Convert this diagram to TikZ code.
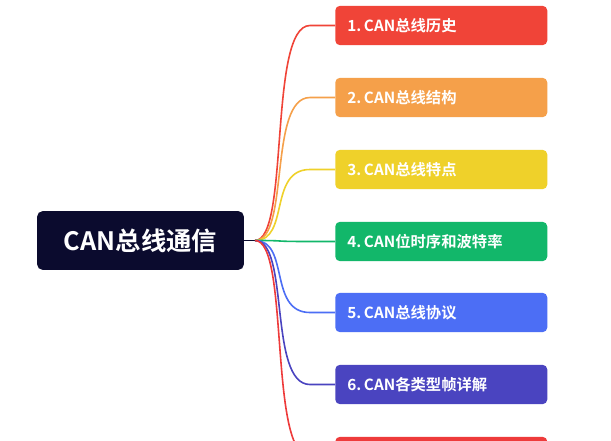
\documentclass[tikz,border=0pt]{standalone}
\usepackage{fontspec}
\newfontfamily\cjk{Noto Sans CJK SC}[BoldFont={Noto Sans CJK SC Bold}]
\definecolor{c1}{HTML}{F04438}
\definecolor{c2}{HTML}{F5A04A}
\definecolor{c3}{HTML}{EFD12A}
\definecolor{c4}{HTML}{12B76A}
\definecolor{c5}{HTML}{4C6EF5}
\definecolor{c6}{HTML}{4A44C0}
\definecolor{c7}{HTML}{EE3B3B}
\definecolor{navy}{HTML}{0B0B2E}
\begin{document}
\begin{tikzpicture}[x=0.75pt,y=-0.75pt,
  box/.style={rounded corners=3.5pt,minimum width=159pt,minimum height=29.5pt,anchor=west,text=white,font=\cjk\bfseries\fontsize{11.5}{13}\selectfont,text width=141pt,align=left,inner sep=0pt},
  link/.style={line width=1.2pt}]
\useasboundingbox (0,0) rectangle (611,440);
\clip (0,0) rectangle (611,440);
\fill[white] (0,0) rectangle (611,440);
\node[fill=navy,rounded corners=4pt,minimum width=155pt,minimum height=44pt,text=white,font=\cjk\bfseries\fontsize{19}{22}\selectfont] (root) at (140.5,240.5) {CAN总线通信};
\coordinate (hub) at (255,240.5);
\draw[link,navy] (root.east) -- (hub);
\foreach \i/\y/\t in {1/25.5/{1.\kern2pt CAN总线历史},2/97.5/{2.\kern2pt CAN总线结构},3/169.5/{3.\kern2pt CAN总线特点},4/241.5/{4.\kern2pt CAN位时序和波特率},5/312.5/{5.\kern2pt CAN总线协议},6/384.5/{6.\kern2pt CAN各类型帧详解},7/456.5/{}}{
  \node[box,fill=c\i] (b\i) at (335,\y) {\t};
  \draw[link,c\i] (hub) .. controls (290,240.5) and (268,\y) .. (310,\y) -- (b\i.west);
}
\end{tikzpicture}
\end{document}
